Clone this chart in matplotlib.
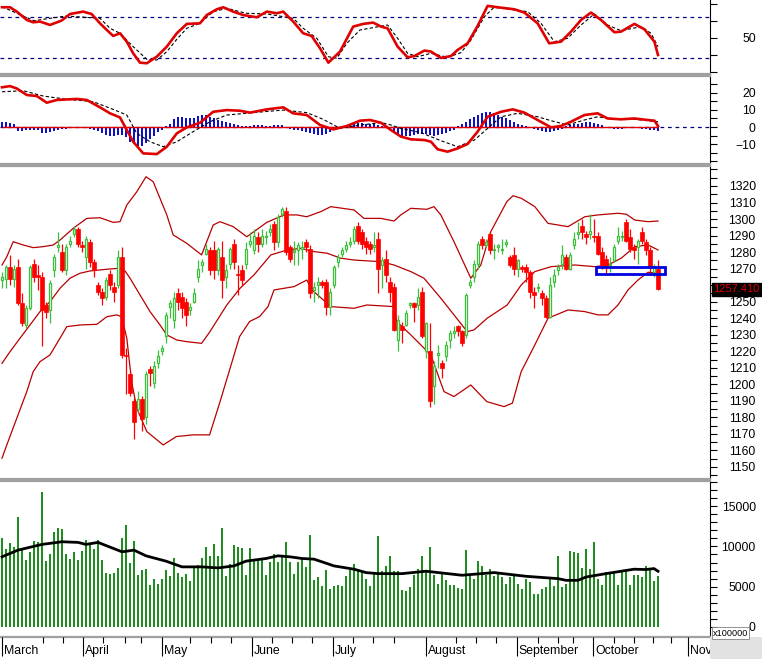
import numpy as np
import matplotlib
matplotlib.use("Agg")
import matplotlib.pyplot as plt
from matplotlib.patches import Rectangle

plt.rcParams['font.family'] = ['Liberation Sans', 'DejaVu Sans']

# ---------------- data ----------------
opens = [1263, 1264, 1271, 1264, 1271, 1249, 1236, 1246, 1273, 1266,
         1265, 1248, 1245, 1269, 1283, 1280, 1269, 1285, 1291, 1294,
         1284, 1277, 1286, 1274, 1260, 1256, 1253, 1267, 1259, 1260,
         1277, 1218, 1206, 1190, 1185, 1191, 1180, 1209, 1201, 1213,
         1220, 1229, 1247, 1239, 1255, 1253, 1250, 1245, 1250, 1265,
         1272, 1279, 1281, 1281, 1269, 1277, 1265, 1273, 1285, 1267,
         1269, 1273, 1285, 1281, 1289, 1285, 1289, 1292, 1297, 1286,
         1303, 1305, 1283, 1280, 1281, 1282, 1286, 1282, 1257, 1260,
         1262, 1262, 1247, 1260, 1274, 1279, 1282, 1285, 1287, 1296,
         1292, 1287, 1285, 1283, 1288, 1272, 1276, 1262, 1259, 1227,
         1235, 1236, 1248, 1249, 1248, 1256, 1220, 1220, 1199, 1218,
         1213, 1217, 1227, 1231, 1235, 1232, 1230, 1260, 1265, 1273,
         1288, 1284, 1291, 1281, 1283, 1281, 1285, 1277, 1278, 1270,
         1271, 1271, 1268, 1256, 1258, 1255, 1252, 1241, 1262, 1269,
         1273, 1277, 1270, 1284, 1291, 1296, 1291, 1291, 1290, 1290,
         1280, 1276, 1272, 1275, 1287, 1289, 1298, 1289, 1283, 1283,
         1292, 1286, 1281, 1268, 1270]
highs = [1268, 1272, 1278, 1272, 1276, 1255, 1248, 1272, 1276, 1272,
         1268, 1250, 1263, 1279, 1292, 1285, 1285, 1290, 1296, 1295,
         1287, 1290, 1288, 1276, 1262, 1258, 1265, 1269, 1262, 1281,
         1283, 1222, 1208, 1192, 1196, 1193, 1208, 1211, 1214, 1221,
         1224, 1244, 1251, 1256, 1258, 1256, 1252, 1249, 1258, 1275,
         1276, 1285, 1283, 1287, 1283, 1287, 1273, 1283, 1288, 1272,
         1272, 1286, 1292, 1294, 1292, 1294, 1293, 1297, 1299, 1303,
         1307, 1307, 1284, 1287, 1286, 1287, 1288, 1284, 1262, 1265,
         1263, 1264, 1258, 1272, 1279, 1283, 1287, 1289, 1296, 1298,
         1294, 1289, 1287, 1292, 1292, 1277, 1281, 1265, 1261, 1242,
         1238, 1245, 1250, 1250, 1258, 1259, 1238, 1237, 1214, 1224,
         1215, 1226, 1233, 1235, 1236, 1233, 1255, 1264, 1275, 1287,
         1290, 1288, 1292, 1285, 1285, 1288, 1288, 1278, 1283, 1276,
         1272, 1273, 1269, 1259, 1261, 1257, 1254, 1265, 1270, 1273,
         1284, 1279, 1280, 1292, 1298, 1300, 1293, 1303, 1300, 1292,
         1283, 1278, 1277, 1285, 1295, 1293, 1300, 1294, 1285, 1288,
         1295, 1288, 1283, 1273, 1275]
lows = [1258, 1258, 1260, 1259, 1248, 1235, 1234, 1245, 1262, 1257,
        1223, 1240, 1237, 1265, 1280, 1268, 1266, 1283, 1289, 1283,
        1280, 1270, 1271, 1265, 1254, 1248, 1251, 1257, 1250, 1258,
        1216, 1194, 1193, 1167, 1183, 1172, 1176, 1199, 1198, 1210,
        1218, 1225, 1240, 1234, 1245, 1240, 1235, 1242, 1249, 1262,
        1268, 1278, 1266, 1264, 1266, 1252, 1258, 1270, 1270, 1254,
        1260, 1270, 1283, 1279, 1280, 1283, 1285, 1290, 1281, 1283,
        1301, 1278, 1274, 1272, 1272, 1276, 1280, 1252, 1250, 1252,
        1258, 1242, 1242, 1258, 1271, 1277, 1280, 1283, 1285, 1285,
        1282, 1279, 1279, 1280, 1255, 1258, 1262, 1250, 1232, 1220,
        1225, 1235, 1246, 1238, 1245, 1228, 1216, 1186, 1188, 1210,
        1204, 1214, 1222, 1228, 1229, 1223, 1228, 1258, 1262, 1270,
        1282, 1283, 1279, 1276, 1280, 1279, 1283, 1271, 1266, 1265,
        1268, 1262, 1252, 1246, 1256, 1248, 1240, 1240, 1259, 1266,
        1270, 1269, 1269, 1282, 1288, 1288, 1285, 1288, 1286, 1278,
        1270, 1266, 1268, 1274, 1285, 1287, 1286, 1280, 1276, 1273,
        1285, 1278, 1268, 1265, 1257]
closes = [1265, 1271, 1264, 1270, 1249, 1237, 1246, 1271, 1265, 1265,
          1245, 1244, 1261, 1277, 1284, 1269, 1283, 1287, 1294, 1285,
          1283, 1288, 1274, 1269, 1256, 1252, 1263, 1260, 1256, 1277,
          1218, 1217, 1195, 1177, 1191, 1179, 1206, 1207, 1211, 1217,
          1222, 1242, 1249, 1252, 1250, 1246, 1242, 1247, 1255, 1270,
          1274, 1282, 1269, 1269, 1282, 1263, 1269, 1282, 1274, 1266,
          1263, 1282, 1287, 1290, 1285, 1290, 1290, 1294, 1286, 1301,
          1306, 1280, 1276, 1281, 1284, 1283, 1283, 1255, 1259, 1262,
          1260, 1247, 1256, 1271, 1277, 1281, 1284, 1286, 1294, 1287,
          1285, 1283, 1282, 1284, 1270, 1275, 1266, 1256, 1233, 1239,
          1233, 1243, 1249, 1247, 1253, 1229, 1237, 1190, 1211, 1219,
          1210, 1224, 1231, 1232, 1232, 1225, 1254, 1262, 1273, 1285,
          1284, 1286, 1281, 1282, 1284, 1282, 1286, 1272, 1270, 1275,
          1270, 1268, 1256, 1254, 1259, 1252, 1241, 1260, 1266, 1271,
          1278, 1270, 1278, 1288, 1292, 1292, 1289, 1293, 1289, 1279,
          1272, 1271, 1273, 1283, 1290, 1290, 1287, 1282, 1281, 1287,
          1287, 1281, 1271, 1271, 1257.41]

volumes = [11000, 9670, 10375, 9875, 13625, 9750, 8290, 9250, 10670, 10500,
           16750, 8170, 9000, 11750, 12250, 12125, 9000, 8420, 9250, 8290,
           9420, 10790, 10375, 9670, 10790, 8290, 6750, 6625, 6750, 7330,
           11000, 12670, 8000, 10670, 6500, 7040, 7250, 5170, 6000, 5375,
           6000, 7040, 6290, 8500, 6750, 6200, 6625, 5670, 7330, 7750,
           8580, 9960, 8830, 10250, 8830, 12250, 6290, 7875, 10170, 9960,
           9750, 6500, 9750, 8290, 8290, 8290, 6420, 8080, 9000, 8080,
           8830, 10500, 8080, 6625, 8080, 8420, 7460, 11420, 5790, 6200,
           5080, 7040, 4750, 5080, 5250, 5080, 6330, 7040, 7875, 7250,
           6830, 6000, 5080, 6625, 11330,
           6920, 7580, 8790, 7000, 6920, 4540, 4420, 4960, 6420, 7170,
           8830, 6830, 9875, 6420, 5375, 6750, 5790, 5250, 5170, 4830,
           4670, 9540, 6420, 6000, 8170, 7540, 6500, 7250, 6330, 6625,
           6200, 5375, 6200, 6330, 5375, 4750, 6000, 5580, 4040, 4040,
           4750, 4960, 6200, 5080, 8790, 4960, 5375, 9420, 9250, 9125,
           7330, 9620, 7170, 10580, 6000, 5250, 6830, 6830, 6920, 5170,
           6920, 6920, 5170, 6500, 6420, 6170, 7580, 7250, 5670, 6290]

vol_ma_t = [0, 4, 10, 15, 19, 21, 24, 30, 33, 36, 41, 45, 50, 54, 58, 61, 66, 69, 72, 75,
            78, 83, 88, 91, 94, 100, 106, 115, 123, 131, 139, 141, 144, 146, 151, 158,
            161, 163, 164]
vol_ma_v = [8710, 9540, 10250, 10580, 10500, 10250, 10500, 9330, 9540, 8830, 8170, 7460,
            7460, 7330, 7580, 8170, 8500, 8830, 8710, 8500, 8420, 7580, 7170, 6750, 6620,
            6620, 6920, 6420, 6750, 6290, 6000, 5790, 5790, 6200, 6620, 7170, 7130, 7250, 6920]

bb_up_t = [0, 1.2, 2.8, 5.3, 7.8, 10.3, 12.8, 14.5, 17.8, 21.2, 24.5, 27.8, 29.5, 31.2,
           33.7, 36, 37.8, 41.2, 42.8, 46.2, 49.9, 52.8, 54.5, 57.8, 61.2, 63, 66.2, 70.5,
           73.7, 76.2, 79.7, 82.2, 88, 90.5, 94.7, 98, 99.7, 102.2, 106.2, 108, 109.7, 113,
           117.2, 119.7, 122.2, 126.2, 127.75, 129.8, 133.2, 136.5, 141.5, 145.7, 149, 154,
           156.1, 158.2, 161.5, 164]
bb_up_v = [1272.2, 1277.2, 1286.3, 1284.3, 1282.7, 1283.3, 1284.3, 1287.3, 1294.4, 1300.4,
           1300.8, 1298, 1298.4, 1308.5, 1316.5, 1325.6, 1322.6, 1302.5, 1290.4, 1285.3,
           1278.3, 1296.4, 1298.4, 1295.4, 1289.3, 1292.4, 1298, 1302.5, 1302.5, 1301.4,
           1304.5, 1307.5, 1305.5, 1300.4, 1300.4, 1298.8, 1302.5, 1306.5, 1305.9, 1307.5,
           1302.5, 1286.3, 1264.2, 1272.2, 1292.4, 1310.5, 1314.1, 1312.6, 1307.5, 1297.4,
           1295.4, 1301.4, 1302.5, 1303.5, 1302.9, 1299.4, 1298.4, 1298.8]
bb_mid_t = [0, 2, 4.5, 7, 9.5, 12, 14.5, 17, 19.5, 22, 27, 29.5, 30.75, 32, 34.5, 37, 39.5,
            41.2, 43.7, 46.2, 49.9, 52, 56.2, 59.5, 63, 67.2, 71.3, 74.7, 78, 81.3, 84.7,
            88, 94.7, 98, 102.2, 105.5, 109.7, 113, 116.3, 118, 121.3, 126.3, 129.8, 133.2,
            137.3, 143.2, 148.2, 151.5, 154.8, 158.2, 161.5, 164]
bb_mid_v = [1212.7, 1219.7, 1227.9, 1235.9, 1244, 1250, 1258.1, 1264.2, 1267.2, 1268.6,
            1269.8, 1270.2, 1268.6, 1264.2, 1254.1, 1244, 1235.9, 1229.9, 1226.8, 1225.8,
            1224.8, 1231.9, 1248, 1258.1, 1266.2, 1278.3, 1281.3, 1282.3, 1280.3, 1279.3,
            1276.3, 1275.2, 1274.2, 1272.2, 1268.2, 1264.2, 1252.1, 1242, 1231.9, 1232.9,
            1240, 1248, 1260.1, 1268.2, 1271.2, 1272.2, 1271.2, 1272.2, 1276.3, 1283.3,
            1284.3, 1281.3]
bb_low_t = [0, 1.2, 3.7, 6.2, 7.8, 9.5, 12, 14.5, 16.2, 19.5, 23.7, 26.2, 28.7, 29.9, 31.2,
            32.4, 33.7, 36.2, 40.3, 43.6, 47.75, 51.9, 54.4, 56.9, 59.4, 61.9, 64.4, 66.5,
            68, 73, 76.2, 77.5, 82.2, 88, 91.2, 98, 98.7, 102.2, 107.2, 110.5, 113, 117.2,
            121.2, 125.5, 127.6, 129.8, 133.2, 136.5, 141.5, 145.7, 149, 151.5, 154, 156.5,
            159, 161.5, 164]
bb_low_v = [1155.3, 1163.3, 1179.5, 1195.6, 1207.7, 1213.7, 1217.8, 1227.9, 1234.9, 1235.9,
            1236.3, 1240.9, 1242, 1240.9, 1227.9, 1201.6, 1185.5, 1171.4, 1163.3, 1168.4,
            1169.4, 1169.4, 1188.6, 1208.7, 1228.9, 1238, 1241, 1247, 1257.1, 1259.1,
            1263.1, 1257.1, 1247, 1246, 1248, 1247, 1237.9, 1229.9, 1217.8, 1195.6,
            1192.6, 1199.6, 1189.5, 1186.5, 1188.6, 1207.7, 1223.8, 1240, 1245, 1244,
            1242, 1242, 1248, 1257.1, 1263.1, 1267.8, 1267.2]

rsi_t = [0, 2, 3.7, 6.2, 7.8, 9.5, 12, 14.9, 17, 20.3, 22.4, 24.5, 26.2, 27.8, 29.5, 31.2,
         32.8, 34.5, 36.2, 38.7, 41.2, 43.7, 46.2, 49.5, 51.2, 53.7, 55.3, 57.8, 60.3, 63.7,
         66.2, 68.7, 70.3, 72.8, 75.3, 77.4, 79.5, 81.6, 84.5, 87.8, 90.3, 92.8, 94.75,
         96.4, 98.9, 101.4, 103.1, 105.6, 107.25, 109.75, 112.25, 113.9, 116.4, 118.9,
         121.4, 123.9, 128.1, 130.6, 133.9, 136.8, 139.75, 142.25, 144.75, 147.25, 149.75,
         153.1, 154.75, 158.1, 160.6, 163.1, 164]
rsi_v = [94.7, 94.7, 88.3, 76.1, 72.7, 73.7, 68.8, 75.2, 84.8, 88.3, 84.8, 71.2, 61.4, 52.7,
         56.6, 44.3, 27.2, 13.6, 12.7, 22.4, 37.1, 56.6, 70.3, 71.2, 83.3, 91.7, 94.7, 88.3,
         83.3, 80, 88.3, 85.9, 88.3, 73.7, 56.6, 52.7, 34.7, 13.6, 29.8, 66.4, 70.3, 72.2,
         66.4, 63.8, 37.1, 21.4, 23.3, 31.3, 29.8, 20.5, 23.3, 32.2, 41.9, 67.3, 96.7, 94.7,
         91.7, 86.9, 71.2, 41.9, 44.3, 59, 76.1, 86.9, 76.1, 58.1, 59, 70.3, 62.5, 44.3, 24.8]
rsi_sig_t = [0, 8, 16, 24.5, 27, 29.5, 32.8, 36.2, 38.7, 41.2, 43.7, 46.2, 49.5, 52.8, 56.2,
             61, 66.2, 72.8, 75.3, 78.7, 81.6, 83.7, 86.2, 89.5, 96.4, 98.9, 101.4, 103.9,
             107.25, 111.4, 114.75, 117.25, 120.6, 123, 131.4, 134.75, 138.1, 141.4, 144.75,
             148.1, 151.4, 154.75, 159.75, 162.25, 164]
rsi_sig_v = [95.5, 75, 81.9, 78.5, 63.9, 56.6, 37, 18.5, 17.5, 29.7, 47.8, 63.9, 71.2, 88.2,
             93.2, 85.9, 84.9, 78.5, 63.9, 49.3, 22.3, 20, 41.9, 61.4, 68.7, 49.3, 27.3, 22.3,
             27.3, 21.4, 28.3, 46.8, 80.9, 94.6, 88.2, 71.2, 44.3, 49.3, 68.7, 84.9, 68.7,
             60.4, 66.3, 56.6, 37]

macd_t = [0, 2, 3.7, 6.2, 8.7, 11.2, 13.7, 18.7, 21.2, 24.5, 27, 29.5, 30.75, 32.8, 35.3,
          38.7, 41.2, 43.7, 46.2, 49.5, 52.8, 56.2, 59.5, 62, 66.2, 70.3, 72.8, 76.2, 79.5,
          82.8, 86.2, 89.5, 92, 94.75, 97.25, 99.75, 102.25, 105.6, 107.25, 108.9, 111.4,
          113.9, 116.4, 118.9, 121.4, 124.75, 127.7, 130.6, 133.9, 137.25, 139.75, 142.25,
          145.6, 148.9, 151.4, 154.75, 158.1, 161.4, 163.1, 164]
macd_v = [23.2, 23.9, 22.5, 18.7, 18.1, 14.2, 15.8, 16.4, 15.8, 11.5, 8, 5.6, 0.2, -8.6,
          -15.4, -15.8, -11.5, -3.7, -0.2, 2.5, 8.9, 9.9, 9.5, 8.4, 10.3, 11.5, 8, 7, 1.2,
          -1.4, 0.6, 3.7, 4.1, 2.5, -1.8, -5.6, -7.2, -7.6, -8.6, -13, -14.4, -12.5, -9.9,
          -2.7, 6, 8.9, 10.3, 8.4, 4.1, -0.2, 0.6, 3.1, 7, 8, 5, 4.5, 5, 4.1, 3.7, 0.6]
macd_sig_t = [0, 5.3, 10.3, 16.2, 22.8, 27.8, 31.2, 33.7, 37, 40.3, 43.7, 47.8, 52, 56.2,
              62.8, 70.3, 76.2, 80.3, 84.5, 89.5, 94.75, 96.4, 99.75, 104.75, 109.75, 113.9,
              118.1, 121.4, 124.75, 128.9, 133.9, 137.25, 141.4, 145.6, 148.9, 153.1, 158.1,
              164]
macd_sig_v = [20.6, 21.2, 18.1, 16.2, 14.8, 10.3, 7, -3.7, -8.6, -11.5, -8.6, -2.7, 3.1, 7,
              8.4, 9.9, 8.4, 4.5, -0.8, 1.2, 2.5, 1.8, -0.8, -3.3, -8, -11.5, -7.6, -0.8, 6,
              8, 6, 3.7, 1.2, 4.1, 6, 4.5, 4.5, 3.1]
macd_hist = [3, 3, 2.5, 2, -2.5, -2.2, -1.5, -1.5, -2, -2,
             -3.7, -3.7, -3, -2.5, -1.5, -1, -1, -0.8, -0.3, 0,
             0, -0.5, -1, -1.5, -2.5, -3.5, -4.5, -5, -5, -4.5,
             -4.5, -6, -8.5, -10, -11, -11, -9.5, -7, -5, -3,
             -2, 0.5, 2, 4.5, 6, 6, 5.5, 5.5, 5.5, 6.5,
             7, 7, 6, 5.5, 4, 3.5, 3, 2.5, 1.5, 1,
             0.5, 0.5, 0.8, 1, 1, 1, 0.8, 0.8, 1, 1,
             1.2, -0.5, -1, -1.5, -2, -2.5, -3, -3.5, -4, -4.5,
             -4.5, -4, -3, -2, -1, 0, 1, 2, 2.5, 2.5,
             2.2, 2, 1.8, 1.5, 1.2, 0.8, 0, -2, -3.5, -4.5,
             -5, -5.3, -5, -4.5, -4, -4, -4.3, -4.7, -5, -4.8,
             -4, -3.5, -2.5, -1.5, 0.5, 1.5, 3, 4.5, 6, 7,
             8, 8.5, 8.5, 8, 7, 6, 5, 4, 3, 2,
             1, 0.5, -0.5, -1.2, -1.8, -2.4, -3, -3.2, -2.5, -1.5,
             -1, 0.5, 1, 1.5, 2, 2.5, 3, 2.8, 2.5, 2,
             1, -0.3, -0.8, -1, -1, -1, -0.8, -0.5, -0.5, -0.7,
             -1, -1.2, -1.5, -2, -2.5]

months = ['March', 'April', 'May', 'June', 'July', 'August', 'September', 'October', 'Nov']
month_at = [0, 20.2, 39.9, 62.4, 82.7, 106, 128.7, 147.8, 171.4]
week_at = [10.3, 15.3, 25.3, 30.75, 34.7, 47, 52.2, 57.25, 67.4, 72.4, 77.6, 87.8, 92.8,
           98.1, 113.5, 118.5, 123.5, 133.9, 138.9, 142.7, 153.1, 158.1, 162.7, 167.25]

zone_t = (148.5, 165.75)
zone_v = (1266.8, 1271.0)

# ---------------- layout ----------------
W, H = 762, 659
PLOT_W = 710
XLIM = (-0.5, 177)
FS = 8.8
GRAY = '#A0A0A0'

fig = plt.figure(figsize=(W / 100, H / 100), dpi=100)
fig.patch.set_facecolor('white')


def panel(top, bottom):
    ax = fig.add_axes([0, 1 - bottom / H, PLOT_W / W, (bottom - top) / H])
    ax.set_xlim(*XLIM)
    ax.set_xticks([])
    ax.yaxis.tick_right()
    ax.spines['left'].set_visible(False)
    for s in ('top', 'bottom'):
        ax.spines[s].set_color(GRAY)
        ax.spines[s].set_linewidth(1.6)
    ax.spines['right'].set_color('black')
    ax.spines['right'].set_linewidth(0.8)
    ax.tick_params(axis='y', which='both', length=5, width=0.8, direction='out',
                   pad=28, labelsize=FS, colors='black')
    return ax


def right_align(ax):
    for lbl in ax.get_yticklabels():
        lbl.set_horizontalalignment('right')


idx = np.arange(len(closes))

# RSI-type oscillator
ax1 = panel(0, 74)
ax1.spines['top'].set_visible(False)
ax1.set_ylim(-3, 105.3)
ax1.set_yticks([50])
ax1.set_yticks([0, 25, 75, 100], minor=True)
ax1.axhline(80, color='#000080', lw=0.9, ls=(0, (3, 3)))
ax1.axhline(20, color='#000080', lw=0.9, ls=(0, (3, 3)))
ax1.plot(rsi_sig_t, rsi_sig_v, color='black', lw=0.8, ls=(0, (3, 2)))
ax1.plot(rsi_t, rsi_v, color='#E00000', lw=1.9)
right_align(ax1)

# MACD
ax2 = panel(76, 164)
ax2.set_ylim(-21.6, 29.8)
ax2.set_yticks([-10, 0, 10, 20])
ax2.set_yticks(np.arange(-20, 30, 5), minor=True)
ax2.axhline(0, color='#000080', lw=0.9, ls=(0, (3, 3)))
ax2.bar(idx, macd_hist, width=0.45, color='#1010C8', zorder=2)
ax2.hlines(0, idx[0], idx[-1], color='#E00000', lw=1.0, zorder=3)
ax2.plot(macd_sig_t, macd_sig_v, color='black', lw=0.8, ls=(0, (3, 2)), zorder=3)
ax2.plot(macd_t, macd_v, color='#E00000', lw=1.9, zorder=4)
right_align(ax2)

# price + Bollinger
ax3 = panel(166, 479)
ax3.set_ylim(1142.7, 1332.1)
price_ticks = np.arange(1150, 1321, 10)
ax3.set_yticks(price_ticks)
# the 1260 label sits under the last-price box in the original
ax3.set_yticklabels(['' if t == 1260 else str(t) for t in price_ticks])
ax3.set_yticks(np.arange(1145, 1331, 5), minor=True)
band = '#B80000'
ax3.plot(bb_up_t, bb_up_v, color=band, lw=0.9)
ax3.plot(bb_mid_t, bb_mid_v, color=band, lw=0.9)
ax3.plot(bb_low_t, bb_low_v, color=band, lw=0.9)

o = np.array(opens, float)
c = np.array(closes, float)
up = c >= o
green = '#3CBF3C'
red = '#FF0000'
ax3.vlines(idx[up], np.array(lows)[up], np.array(highs)[up], color=green, lw=0.9, zorder=3)
ax3.vlines(idx[~up], np.array(lows)[~up], np.array(highs)[~up], color=red, lw=0.9, zorder=3)
body_lo = np.minimum(o, c)
body_h = np.maximum(np.abs(c - o), 0.6)
ax3.bar(idx[up], body_h[up], bottom=body_lo[up], width=0.72, facecolor='white',
        edgecolor=green, lw=0.9, zorder=4)
ax3.bar(idx[~up], body_h[~up], bottom=body_lo[~up], width=0.8, facecolor=red,
        edgecolor=red, lw=0.5, zorder=4)
ax3.add_patch(Rectangle((zone_t[0], zone_v[0]), zone_t[1] - zone_t[0], zone_v[1] - zone_v[0],
                        fill=False, edgecolor='#0000E0', lw=2.0, zorder=6))
ax3.text(1.0045, closes[-1], f'{closes[-1]:.3f}', transform=ax3.get_yaxis_transform(),
         ha='left', va='center', fontsize=8.0, color='#E00000', clip_on=False,
         bbox=dict(boxstyle='square,pad=0.12', facecolor='black', edgecolor='black'))
right_align(ax3)

# volume
ax4 = panel(481, 637)
ax4.set_ylim(-1250, 18125)
ax4.set_yticks([0, 5000, 10000, 15000])
ax4.set_yticks(np.arange(0, 18001, 1000), minor=True)
ax4.bar(idx, volumes, width=0.5, color='#1E8C1E')
ax4.plot(vol_ma_t, vol_ma_v, color='black', lw=2.0)
right_align(ax4)

# date axis
ax5 = fig.add_axes([0, 0, PLOT_W / W, 22 / H])
ax5.set_xlim(*XLIM)
ax5.set_ylim(0, 1)
ax5.axis('off')
ax5.vlines(month_at, 0.14, 1, color='black', lw=0.8)
ax5.vlines(week_at, 0.73, 1, color='black', lw=0.8)
for name, pos in zip(months, month_at):
    ax5.text(pos + 0.5, 0.38, name, ha='left', va='center', fontsize=FS, clip_on=True)

# bottom-right corner
fig.patches.append(Rectangle((PLOT_W / W, 0), 1 - PLOT_W / W, 22 / H,
                             transform=fig.transFigure, facecolor='#E2E2E2',
                             edgecolor='none', zorder=0))
fig.text(713 / W, 1 - 633 / H, 'x100000', fontsize=6.6, ha='left', va='center',
         bbox=dict(boxstyle='square,pad=0.12', facecolor='white', edgecolor='#808080', lw=0.6))

fig.savefig('out.png', dpi=100)
